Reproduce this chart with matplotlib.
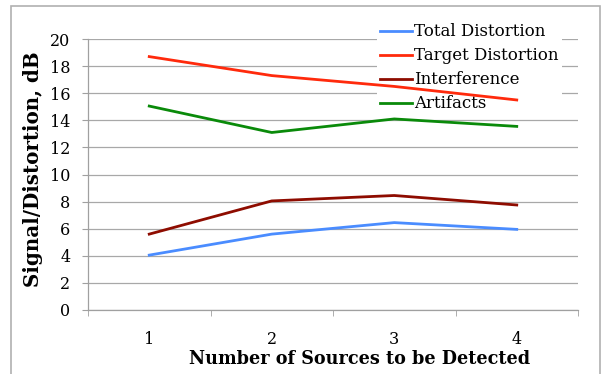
import matplotlib.pyplot as plt
from matplotlib.patches import Rectangle

# -------------------------------------------------
# Data
# -------------------------------------------------

categories = ["1", "2", "3", "4"]
total_distortion = [4.05, 5.6, 6.45, 5.95]
target_distortion = [18.7, 17.3, 16.5, 15.5]
interference = [5.6, 8.05, 8.45, 7.75]
artifacts = [15.05, 13.1, 14.1, 13.55]

series = [
    ("Total Distortion", total_distortion, "#4a8cff"),
    ("Target Distortion", target_distortion, "#ff2a0c"),
    ("Interference", interference, "#8e0c00"),
    ("Artifacts", artifacts, "#0a8a0a"),
]

# -------------------------------------------------
# Plot
# -------------------------------------------------

plt.rcParams["font.family"] = ["DejaVu Serif"]

fig = plt.figure(figsize=(6.1, 3.74), dpi=100)
fig.patches.append(Rectangle((11 / 610, -0.1), 589 / 610, 1.1 - 6 / 374,
                             transform=fig.transFigure, fill=False,
                             edgecolor="#b0b0b0", linewidth=1.2))

ax = fig.add_axes([88 / 610, 64 / 374, 490 / 610, 271 / 374])

x = range(1, len(categories) + 1)
for name, vals, color in series:
    ax.plot(x, vals, color=color, linewidth=2.0, label=name, zorder=3)

ax.set_xlim(0.5, 4.5)
ax.set_ylim(0, 20)
ax.set_yticks(range(0, 21, 2))
ax.set_xticks(list(x))
ax.set_xticklabels(categories)
ax.set_xticks([0.5, 1.5, 2.5, 3.5, 4.5], minor=True)

ax.grid(axis="y", color="#a8a8a8", linewidth=0.9, zorder=0)
ax.set_axisbelow(True)
for side in ["top", "right"]:
    ax.spines[side].set_visible(False)
for side in ["left", "bottom"]:
    ax.spines[side].set_color("#a0a0a0")
    ax.spines[side].set_linewidth(0.9)

ax.tick_params(axis="y", length=4.3, color="#a0a0a0", labelsize=11.5, pad=8.5)
ax.tick_params(axis="x", which="major", length=0, labelsize=11.5, pad=15)
ax.tick_params(axis="x", which="minor", length=4, color="#a0a0a0")

ax.set_ylabel("Signal/Distortion, dB", fontsize=14.3, fontweight="bold")
ax.set_xlabel("Number of Sources to be Detected", fontsize=12.7, fontweight="bold")
ax.xaxis.set_label_coords((360 - 88) / 490, -0.149)
ax.yaxis.set_label_coords(-0.092, (310 - 169) / 271)

leg = ax.legend(loc="upper left", bbox_to_anchor=(0.59, 1.07), frameon=True,
                fontsize=12, handlelength=1.9, handletextpad=0.1,
                labelspacing=0.42, borderaxespad=0, borderpad=0.2)
leg.get_frame().set_edgecolor("none")
leg.get_frame().set_facecolor("white")
leg.get_frame().set_alpha(1)
leg.set_zorder(2.5)

fig.savefig("out.png", dpi=100)
